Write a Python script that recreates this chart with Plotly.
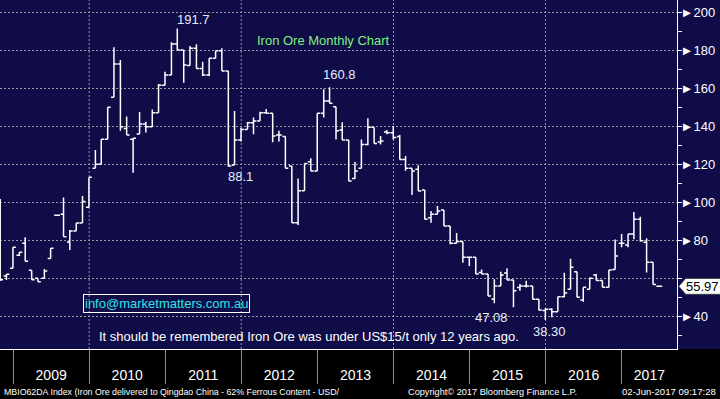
import pandas as pd
import plotly.graph_objects as go

# ---------------- data (monthly OHLC, Oct-2008 .. Jun-2017) ----------------
first_month = "2008-10"
last_month = "2017-06"

open_ = [
    # 2008 Oct-Dec
    98.0, 61.4, 65.5,
    # 2009
    72.3, 78.6, 64.4, 60.2, 60.2, 70.7, 93.4, 93.9, 79.3, 85.1, 89.3, 97.6,
    # 2010
    118.1, 120.2, 133.4, 155.5, 173.0, 139.0, 133.4, 136.2, 141.4, 140.0, 147.4, 161.8,
    # 2011
    167.2, 183.5, 180.4, 172.2, 181.3, 170.7, 167.2, 176.0, 180.0, 169.3, 119.8, 133.0,
    # 2012
    138.6, 142.1, 143.0, 147.4, 147.1, 135.6, 134.8, 119.3, 89.5, 106.3, 121.5, 116.7,
    # 2013
    147.1, 153.5, 150.5, 138.3, 133.0, 112.8, 118.1, 130.7, 139.7, 132.0, 137.2, 136.8,
    # 2014
    134.8, 122.8, 118.1, 117.6, 106.7, 92.1, 93.9, 96.2, 87.7, 78.6, 79.6, 71.3,
    # 2015
    71.3, 63.3, 62.5, 49.3, 56.2, 63.0, 59.3, 55.4, 56.2, 56.2, 49.2, 43.3,
    # 2016
    43.9, 42.6, 50.5, 54.4, 63.7, 48.8, 54.4, 62.0, 59.0, 55.5, 64.9, 78.6,
    # 2017 Jan-Jun
    77.7, 83.5, 91.3, 79.2, 68.6, 55.97,
]
high = [
    101.9, 62.5, 76.5,
    74.0, 81.8, 64.4, 60.2, 65.1, 76.0, 93.4, 102.8, 85.6, 89.3, 103.5, 113.4,
    127.7, 133.4, 150.2, 181.8, 175.1, 145.4, 133.9, 147.7, 142.6, 149.1, 162.5, 168.9,
    184.4, 191.7, 180.4, 182.5, 183.4, 174.2, 176.0, 180.0, 181.3, 169.3, 148.3, 139.5,
    142.5, 144.8, 147.9, 149.3, 147.1, 137.9, 134.8, 119.3, 112.8, 120.7, 123.4, 147.1,
    159.7, 160.8, 150.5, 142.3, 133.0, 121.4, 133.3, 144.4, 139.7, 135.1, 138.3, 140.4,
    135.6, 124.6, 118.1, 119.7, 106.7, 95.6, 98.3, 96.2, 87.7, 84.1, 79.6, 71.3,
    71.3, 64.9, 62.5, 59.7, 63.7, 65.5, 59.3, 57.2, 58.9, 56.2, 49.2, 44.4,
    44.4, 50.5, 63.2, 70.5, 63.7, 55.5, 60.7, 62.5, 59.0, 64.6, 80.7, 83.5,
    83.5, 95.1, 92.6, 81.3, 68.6, 55.97,
]
low = [
    58.8, 59.3, 65.5,
    72.0, 69.2, 59.5, 58.4, 60.2, 70.7, 93.4, 82.1, 75.1, 85.1, 89.3, 97.6,
    118.1, 120.2, 133.4, 155.5, 137.9, 135.6, 115.8, 136.2, 136.9, 140.0, 147.4, 161.8,
    167.2, 180.4, 163.2, 172.2, 170.7, 166.7, 166.7, 176.0, 169.3, 118.9, 119.8, 132.2,
    138.6, 136.0, 143.0, 147.1, 131.8, 132.2, 118.1, 89.5, 88.3, 106.3, 116.7, 116.7,
    144.8, 152.3, 133.3, 133.0, 111.4, 112.5, 118.1, 130.2, 131.2, 130.7, 136.0, 133.3,
    122.8, 116.8, 104.1, 106.2, 91.3, 89.5, 93.9, 87.7, 78.1, 78.6, 68.4, 66.7,
    62.5, 62.5, 50.9, 47.08, 56.2, 59.3, 45.0, 53.7, 55.4, 49.2, 43.3, 38.3,
    39.7, 42.6, 50.2, 54.4, 50.2, 47.9, 54.4, 59.0, 55.5, 55.5, 64.9, 76.5,
    76.5, 80.8, 79.5, 63.3, 56.9, 55.97,
]
close = [
    59.5, 62.4, 76.5,
    73.9, 69.2, 59.5, 58.4, 64.0, 76.0, 93.4, 82.1, 85.1, 89.3, 100.7, 113.4,
    120.2, 133.4, 150.2, 173.0, 140.0, 135.6, 133.9, 141.4, 140.0, 147.4, 161.8, 167.2,
    183.5, 180.4, 172.5, 181.3, 170.7, 167.2, 176.0, 180.0, 169.3, 119.3, 133.0, 138.6,
    142.1, 143.0, 147.4, 147.1, 135.1, 135.6, 118.1, 89.5, 106.3, 120.7, 116.7, 147.1,
    153.5, 152.3, 137.9, 133.0, 111.4, 116.7, 130.7, 139.7, 131.2, 132.5, 136.8, 134.3,
    122.8, 118.1, 116.7, 106.2, 91.3, 93.9, 95.6, 87.7, 78.6, 79.6, 71.3, 71.3,
    62.5, 62.5, 50.9, 56.2, 62.0, 59.3, 53.7, 56.2, 56.2, 49.2, 43.5, 43.9,
    42.6, 50.5, 52.5, 66.0, 50.2, 55.5, 60.2, 59.0, 55.5, 64.6, 72.0, 78.6,
    83.5, 91.3, 80.0, 68.6, 56.9, 55.97,
]

year_labels = ["2009", "2010", "2011", "2012", "2013", "2014", "2015", "2016", "2017"]
price_ticks = [40, 60, 80, 100, 120, 140, 160, 180, 200]

# callouts: (month, text, which end of the bar)
callouts = [
    ("2011-02", "191.7", "high"),
    ("2013-02", "160.8", "high"),
    ("2011-10", "88.1", "low"),
    ("2015-04", "47.08", "low"),
    ("2015-12", "38.30", "low"),
]

title_text = "Iron Ore Monthly Chart"
email_text = "info@marketmatters.com.au"
note_text = "It should be remembered Iron Ore was under US$15/t only 12 years ago."
footer_left = "MBIO62DA Index (Iron Ore delivered to Qingdao China - 62% Ferrous Content - USD/"
footer_mid = "Copyright\u00a9 2017 Bloomberg Finance L.P."
footer_right = "02-Jun-2017 09:17:28"

# ---------------- build ----------------
periods = pd.period_range(first_month, last_month, freq="M")
dates = [p.end_time.normalize() for p in periods]
month_keys = [str(p) for p in periods]

NAVY = "#0f0c48"
GRID = "#9a9aa6"
FONT = "Liberation Sans, Arial, sans-serif"
SMALL = "Liberation Sans, Arial, sans-serif"

x_start = pd.Timestamp("2008-10-30")
x_end = pd.Timestamp("2017-09-23")

fig = go.Figure(
    go.Ohlc(
        x=dates, open=open_, high=high, low=low, close=close,
        increasing=dict(line=dict(color="white", width=1.5)),
        decreasing=dict(line=dict(color="white", width=1.5)),
        tickwidth=0.5, hoverinfo="skip", showlegend=False,
    )
)

# year label positions: centre of the visible part of each year
year_centers = []
for y in year_labels:
    a = max(pd.Timestamp(f"{y}-01-01"), x_start)
    b = min(pd.Timestamp(f"{int(y) + 1}-01-01"), x_end)
    year_centers.append(a + (b - a) / 2)

last = close[-1]
# the last-price flag covers the tick label it sits on
price_text = ["" if abs(v - last) < 8 else "\u25ba" + str(v) for v in price_ticks]

shapes = [
    dict(type="rect", xref="paper", yref="paper", x0=-0.02, x1=1.2, y0=-0.3, y1=0,
         fillcolor="black", line=dict(width=0), layer="below"),
]
for yr in [2010, 2012, 2014, 2016]:
    shapes.append(dict(type="line", xref="x", yref="paper",
                       x0=f"{yr}-01-01", x1=f"{yr}-01-01", y0=0, y1=1,
                       line=dict(color=GRID, width=1, dash="2px,2px"), layer="below"))

tip, bx0, bx1, half = 1.0025, 1.0128, 1.08, 4.2
shapes.append(dict(
    type="path", xref="paper", yref="y",
    path=f"M {tip},{last} L {bx0},{last + half} L {bx1},{last + half} "
         f"L {bx1},{last - half} L {bx0},{last - half} Z",
    fillcolor="white", line=dict(color="#404040", width=1), layer="above"))

annotations = []
shift = {"2011-02": (16, 9), "2013-02": (10, 13), "2011-10": (12, -10),
         "2015-04": (-3, -14), "2015-12": (4, -12)}
for m, txt, end in callouts:
    i = month_keys.index(m)
    yv = high[i] if end == "high" else low[i]
    dx, dy = shift[m]
    annotations.append(dict(x=dates[i], y=yv, xref="x", yref="y", text=txt,
                            showarrow=False, xshift=dx, yshift=dy,
                            xanchor="center", yanchor="middle",
                            font=dict(family=FONT, size=13, color="#e6ecff")))

C = dict(xanchor="center", yanchor="middle", showarrow=False)
annotations += [
    dict(x=0.478, y=0.885, xref="paper", yref="paper", text=title_text, **C,
         font=dict(family=FONT, size=13, color="#7ef07e")),
    dict(x=0.2466, y=0.1304, xref="paper", yref="paper", text=email_text, **C,
         font=dict(family=FONT, size=13, color="#2fe3e6"),
         bordercolor="white", borderwidth=1, borderpad=1),
    dict(x=0.456, y=0.0344, xref="paper", yref="paper", text=note_text, **C,
         font=dict(family=FONT, size=13, color="white")),
    dict(x=1.0372, y=last, xref="paper", yref="y", text=f"{last:.2f}", **C,
         font=dict(family=FONT, size=13, color="black")),
    dict(x=0.003, y=-0.1223, xref="paper", yref="paper", text=footer_left,
         showarrow=False, xanchor="left", yanchor="middle",
         font=dict(family=SMALL, size=8.8, color="white")),
    dict(x=0.5994, y=-0.1223, xref="paper", yref="paper", text=footer_mid,
         showarrow=False, xanchor="left", yanchor="middle",
         font=dict(family=SMALL, size=9.2, color="white")),
    dict(x=1.060, y=-0.1223, xref="paper", yref="paper", text=footer_right,
         showarrow=False, xanchor="right", yanchor="middle",
         font=dict(family=SMALL, size=9.6, color="white")),
]

fig.update_layout(
    width=720, height=399,
    margin=dict(l=0, r=43, t=0, b=50, pad=0),
    paper_bgcolor=NAVY, plot_bgcolor=NAVY,
    showlegend=False,
    shapes=shapes, annotations=annotations,
    xaxis=dict(
        type="date", range=[x_start, x_end],
        rangeslider=dict(visible=False),
        showgrid=False, zeroline=False,
        showline=True, linecolor="white", linewidth=1,
        tickmode="array", tickvals=year_centers, ticktext=year_labels,
        ticks="", ticklabelstandoff=13,
        tickfont=dict(family=FONT, size=14, color="white"),
        minor=dict(tickmode="linear", tick0="2009-01-01", dtick="M12",
                   ticks="outside", ticklen=34, tickcolor="#8c8c8c", tickwidth=1,
                   showgrid=False),
    ),
    yaxis=dict(
        side="right", range=[23.0, 206.7],
        tickmode="array", tickvals=price_ticks, ticktext=price_text,
        showgrid=True, gridcolor=GRID, gridwidth=1, griddash="2px,2px",
        zeroline=False, showline=True, linecolor="white", linewidth=1,
        ticks="",
        tickfont=dict(family=FONT, size=13, color="white"),
        minor=dict(tickmode="linear", tick0=0, dtick=10, ticks="outside",
                   ticklen=4, tickcolor="white", tickwidth=1, showgrid=False),
    ),
)

fig.write_html(
    "out.html",
    config={"displayModeBar": False},
    post_script="document.body.style.margin='0px';document.body.style.overflow='hidden';",
)
